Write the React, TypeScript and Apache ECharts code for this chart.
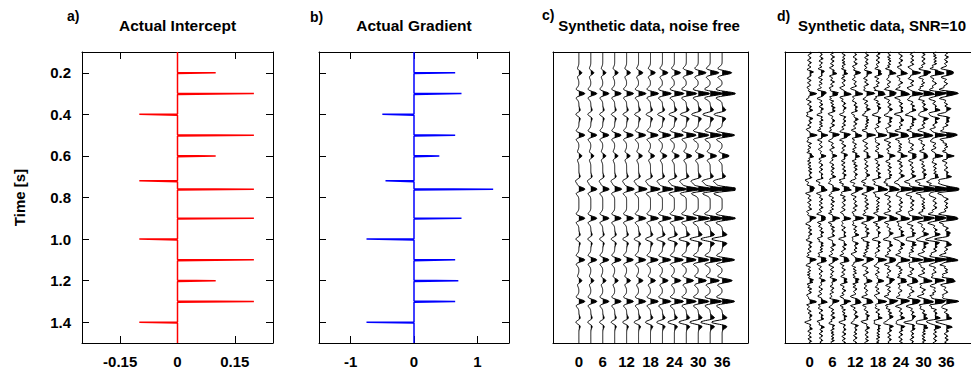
import React, { useEffect, useRef } from "react";
import * as echarts from "echarts";

// ---- data ----
const reflTimes = [0.2, 0.3, 0.4, 0.5, 0.6, 0.72, 0.76, 0.9, 1.0, 1.1, 1.2, 1.3, 1.4];
const interceptValues = [0.1, 0.2, -0.1, 0.2, 0.1, -0.1, 0.2, 0.2, -0.1, 0.2, 0.1, 0.2, -0.1];
const gradientValues = [0.65, 0.75, -0.5, 0.65, 0.4, -0.45, 1.25, 0.75, -0.75, 0.65, 0.7, 0.65, -0.75];
const traceAngles = [0, 3, 6, 9, 12, 15, 18, 21, 24, 27, 30, 33, 36];
const angleTickLabels = [0, 6, 12, 18, 24, 30, 36];
const timeTickLabels = [0.2, 0.4, 0.6, 0.8, 1.0, 1.2, 1.4];
const interceptTickLabels = [-0.15, 0, 0.15];
const gradientTickLabels = [-1, 0, 1];
// hand-typed noise samples for the SNR=10 panel
const noiseValues = [
  0.3, 0.8, 0.5, -0.2, -0.7, -0.4, 0.1, 0.6, 0.2, -0.5, -0.9, -0.3, 0.4, 0.7, 0.1, -0.3,
  -0.6, 0.2, 0.9, 0.5, -0.1, -0.8, -0.5, 0.3, 0.6, -0.2, -0.7, -0.1, 0.5, 0.8, 0.3, -0.4,
  -0.6, 0.0, 0.7, 0.4, -0.3, -0.9, -0.4, 0.2, 0.5, 0.1, -0.5, -0.3, 0.4, 0.9, 0.2, -0.6,
  -0.8, -0.1, 0.6, 0.3, -0.2, -0.5, 0.3, 0.7, 0.0, -0.7, -0.4, 0.5, 0.8, 0.1, -0.4, -0.9,
  -0.2, 0.4, 0.6, -0.1, -0.6, 0.2, 0.8, 0.4, -0.3, -0.7, 0.1, 0.5, -0.2, -0.8, -0.3, 0.3,
  0.9, 0.3, -0.5, -0.6, 0.2, 0.7, 0.2, -0.4, -0.8, 0.0, 0.6, 0.5, -0.2, -0.7, -0.2, 0.4,
  0.7, -0.1, -0.5, 0.1, 0.8, 0.3, -0.6, -0.9, -0.1, 0.5, 0.4, -0.3, -0.6, 0.3, 0.9, 0.1,
  -0.4, -0.7, 0.2, 0.6, 0.0, -0.5, -0.2, 0.5, -0.3, -0.8, 0.1, 0.4, -0.6, 0.2, 0.7, -0.1,
  -0.5, 0.3, 0.6, -0.4, -0.2, 0.8, 0.2, -0.7, -0.3, 0.5, 0.1, -0.6, 0.4, 0.9, -0.2, -0.5,
];

const T_START = 0.1;
const T_END = 1.5;
const WAVELET_HZ = 18;
const TRACE_GAIN = 7.4;
const TRACE_CLIP = 3.3;
const NOISE_LEVEL = 0.085;

function ricker(tau: number) {
  const a = Math.pow(Math.PI * WAVELET_HZ * tau, 2);
  return (1 - 2 * a) * Math.exp(-a);
}

function reflectivity(i: number, angleDeg: number) {
  const s = Math.sin((angleDeg * Math.PI) / 180);
  return interceptValues[i] + gradientValues[i] * s * s;
}

function spikeLine(vals: number[]) {
  const pts: number[][] = [[0, T_START]];
  reflTimes.forEach((t, i) => {
    pts.push([0, t - 0.0015], [vals[i], t], [0, t + 0.004]);
  });
  pts.push([0, T_END]);
  return pts;
}

function syntheticTrace(k: number, dt: number, withNoise: boolean) {
  const ang = traceAngles[k];
  const n = Math.round((T_END - T_START) / dt);
  const pts: number[][] = [];
  for (let j = 0; j <= n; j++) {
    const t = T_START + j * dt;
    let s = 0;
    for (let i = 0; i < reflTimes.length; i++) {
      const tau = t - reflTimes[i];
      if (Math.abs(tau) < 0.15) s += reflectivity(i, ang) * ricker(tau);
    }
    if (withNoise) s += NOISE_LEVEL * noiseValues[(j + 37 * k) % noiseValues.length];
    const d = Math.max(-TRACE_CLIP, Math.min(TRACE_CLIP, TRACE_GAIN * s));
    pts.push([ang + d, t]);
  }
  return pts;
}

function makeWiggleRender(traces: number[][][]) {
  return (params: any, api: any) => {
    const k = params.dataIndex;
    const pts = traces[k];
    const base = traceAngles[k];
    const px = pts.map((p) => api.coord(p));
    const children: any[] = [];
    let run: number[][] | null = null;
    for (let j = 0; j < pts.length; j++) {
      const v = pts[j][0] - base;
      if (v > 0.01) {
        if (!run) {
          run = [];
          if (j > 0) {
            const vp = pts[j - 1][0] - base;
            const f = -vp / (v - vp);
            const tc = pts[j - 1][1] + f * (pts[j][1] - pts[j - 1][1]);
            run.push(api.coord([base, tc]));
          } else {
            run.push(api.coord([base, pts[j][1]]));
          }
        }
        run.push(px[j]);
      } else if (run) {
        const vp = pts[j - 1][0] - base;
        const f = vp / (vp - v);
        const tc = pts[j - 1][1] + f * (pts[j][1] - pts[j - 1][1]);
        run.push(api.coord([base, tc]));
        children.push({ type: "polygon", shape: { points: run }, style: { fill: "#000" } });
        run = null;
      }
    }
    if (run) {
      run.push(api.coord([base, pts[pts.length - 1][1]]));
      children.push({ type: "polygon", shape: { points: run }, style: { fill: "#000" } });
    }
    children.push({
      type: "polyline",
      shape: { points: px },
      style: { stroke: "#000", lineWidth: 1, fill: "none" },
    });
    return { type: "group", children };
  };
}

const FONT = '"Liberation Sans", Arial, Helvetica, sans-serif';
const NARROW = '"Liberation Sans Narrow", "Arial Narrow", "Liberation Sans", sans-serif';
const lineStyle = { color: "#000", width: 1 };

function xPair(g: number, min: number, max: number, ticks: number[], showTicks: boolean, family: string) {
  const tick = { show: showTicks, inside: true, length: 7, customValues: ticks, lineStyle };
  return [
    {
      type: "value", gridIndex: g, position: "bottom", min, max,
      axisLine: { show: true, onZero: false, lineStyle },
      axisTick: tick,
      axisLabel: {
        show: true, customValues: ticks, margin: 11, color: "#000", fontWeight: "bold",
        fontSize: 15, fontFamily: family,
      },
      splitLine: { show: false },
    },
    {
      type: "value", gridIndex: g, position: "top", min, max,
      axisLine: { show: true, onZero: false, lineStyle },
      axisTick: tick,
      axisLabel: { show: false },
      splitLine: { show: false },
    },
  ];
}

function yPair(g: number, showTicks: boolean, showLabels: boolean) {
  const tick = { show: showTicks, inside: true, length: 7, customValues: timeTickLabels, lineStyle };
  return [
    {
      type: "value", gridIndex: g, position: "left", min: T_START, max: T_END, inverse: true,
      axisLine: { show: true, onZero: false, lineStyle },
      axisTick: tick,
      axisLabel: {
        show: showLabels, customValues: timeTickLabels, margin: 11, color: "#000",
        fontWeight: "bold", fontSize: 15, fontFamily: FONT,
        formatter: (v: number) => v.toFixed(1),
      },
      splitLine: { show: false },
    },
    {
      type: "value", gridIndex: g, position: "right", min: T_START, max: T_END, inverse: true,
      axisLine: { show: true, onZero: false, lineStyle },
      axisTick: tick,
      axisLabel: { show: false },
      splitLine: { show: false },
    },
  ];
}

function txt(text: string, x: number, y: number, size: number, align: string, rotation = 0) {
  return {
    type: "text", x, y, rotation,
    style: {
      text, fill: "#000", font: `bold ${size}px ${FONT}`,
      textAlign: align, textVerticalAlign: "middle",
    },
  };
}

export default function App() {
  const ref = useRef<HTMLDivElement>(null);
  useEffect(() => {
    if (!ref.current) return;
    const chart = echarts.init(ref.current, undefined, { renderer: "svg" });
    const cleanTraces = traceAngles.map((_, k) => syntheticTrace(k, 0.002, false));
    const noisyTraces = traceAngles.map((_, k) => syntheticTrace(k, 0.004, true));
    const option: any = {
      animation: false,
      backgroundColor: "#fff",
      grid: [
        { left: 82, top: 52, width: 191, height: 291 },
        { left: 319, top: 52, width: 190, height: 291 },
        { left: 553, top: 52, width: 195, height: 291 },
        { left: 785, top: 52, width: 195, height: 291 },
      ],
      xAxis: [
        ...xPair(0, -0.25, 0.25, interceptTickLabels, true, FONT),
        ...xPair(1, -1.5, 1.5, gradientTickLabels, true, FONT),
        ...xPair(2, -6.5, 42.5, angleTickLabels, false, NARROW),
        ...xPair(3, -6.5, 42.5, angleTickLabels, false, NARROW),
      ],
      yAxis: [
        ...yPair(0, true, true),
        ...yPair(1, true, false),
        ...yPair(2, false, false),
        ...yPair(3, false, false),
      ],
      series: [
        {
          type: "line", xAxisIndex: 0, yAxisIndex: 0, data: spikeLine(interceptValues),
          symbol: "none", lineStyle: { color: "#ff0000", width: 1.5 }, itemStyle: { color: "#ff0000" },
        },
        {
          type: "line", xAxisIndex: 2, yAxisIndex: 2, data: spikeLine(gradientValues),
          symbol: "none", lineStyle: { color: "#0000ff", width: 1.5 }, itemStyle: { color: "#0000ff" },
        },
        {
          type: "custom", xAxisIndex: 4, yAxisIndex: 4,
          data: traceAngles.map((a) => [a, 0.8]),
          renderItem: makeWiggleRender(cleanTraces),
        },
        {
          type: "custom", xAxisIndex: 6, yAxisIndex: 6,
          data: traceAngles.map((a) => [a, 0.8]),
          renderItem: makeWiggleRender(noisyTraces),
        },
      ],
      graphic: [
        txt("a)", 67, 16, 14, "left"),
        txt("Actual Intercept", 177.5, 25.5, 15.5, "center"),
        txt("b)", 310, 17, 14, "left"),
        txt("Actual Gradient", 414, 25.5, 15.5, "center"),
        txt("c)", 542, 15, 14, "left"),
        txt("Synthetic data, noise free", 649, 25.5, 15, "center"),
        txt("d)", 777, 16, 14, "left"),
        txt("Synthetic data, SNR=10", 882, 25.5, 15, "center"),
        txt("Time [s]", 19, 197.5, 15, "center", Math.PI / 2),
      ],
    };
    chart.setOption(option);
    return () => chart.dispose();
  }, []);
  return (
    <div
      ref={ref}
      style={{ position: "absolute", left: 0, top: 0, width: 971, height: 371, background: "#fff" }}
    />
  );
}
